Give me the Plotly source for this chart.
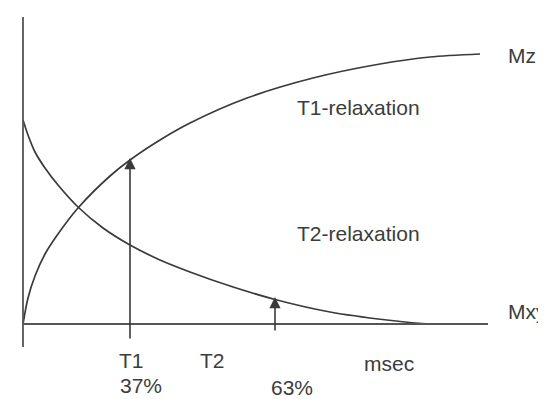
import plotly.graph_objects as go

# time (a.u., ~msec) and magnetization (a.u.)
mz_t = [0, 5, 12, 22, 35, 55, 87, 107, 137, 167, 224, 290, 357, 407, 457]
mz_val = [0, 26, 48, 70, 90, 116, 148, 164, 184, 201, 226, 246, 260, 267, 270]

mxy_t = [0, 5, 12, 22, 35, 55, 80, 107, 137, 167, 207, 254, 307, 364, 407, 417]
mxy_val = [204, 189, 172, 156, 139, 117, 96, 79, 64, 52, 38, 24, 12, 4, 0, 0]

# arrows: position, tail, tip
arrow_t = [107, 252]
arrow_tail = [-16, -8]
arrow_tip = [166, 27]

# text labels
labels = ["T1-relaxation", "T2-relaxation", "Mz", "Mxy", "T1", "37%", "T2", "63%", "msec"]
label_t = [335, 335, 499, 483, 108, 95, 189, 269, 366]
label_val = [217, 91, 269, 13, -36, -61, -36, -63, -39]
label_anchor = ["center", "center", "center", "left", "center", "left", "center", "center", "center"]

line_color = "#3a3a3a"
axis_color = "#555555"
text_color = "#3c3c3c"

# the page body adds an 8px margin, so the ranges are shifted by that much
fig = go.Figure()

for tt, vv in [(mz_t, mz_val), (mxy_t, mxy_val)]:
    fig.add_trace(
        go.Scatter(
            x=tt,
            y=vv,
            mode="lines",
            line=dict(color=line_color, width=1.7, shape="spline", smoothing=0.8),
            showlegend=False,
            hoverinfo="skip",
        )
    )

# axes drawn as plain lines
fig.add_shape(type="line", x0=0, x1=0, y0=-23, y1=307, xref="x", yref="y",
              line=dict(color=axis_color, width=1.8))
fig.add_shape(type="line", x0=0, x1=465, y0=0, y1=0, xref="x", yref="y",
              line=dict(color=axis_color, width=1.8))

for i in range(len(arrow_t)):
    fig.add_annotation(
        x=arrow_t[i],
        y=arrow_tip[i],
        ax=arrow_t[i],
        ay=arrow_tail[i],
        xref="x",
        yref="y",
        axref="x",
        ayref="y",
        text="",
        showarrow=True,
        arrowhead=2,
        arrowsize=1.4,
        arrowwidth=1.6,
        arrowcolor=line_color,
    )

for i in range(len(labels)):
    fig.add_annotation(
        x=label_t[i],
        y=label_val[i],
        xref="x",
        yref="y",
        text=labels[i],
        showarrow=False,
        xanchor=label_anchor[i],
        yanchor="middle",
        font=dict(family="Liberation Sans, Arial, sans-serif", size=21, color=text_color),
    )

fig.update_layout(
    width=546,
    height=399,
    autosize=False,
    margin=dict(l=0, r=0, t=0, b=0),
    paper_bgcolor="white",
    plot_bgcolor="white",
)
fig.update_xaxes(range=[-15, 531], visible=False, fixedrange=True)
fig.update_yaxes(range=[-83, 316], visible=False, fixedrange=True)

fig.write_html("out.html")
